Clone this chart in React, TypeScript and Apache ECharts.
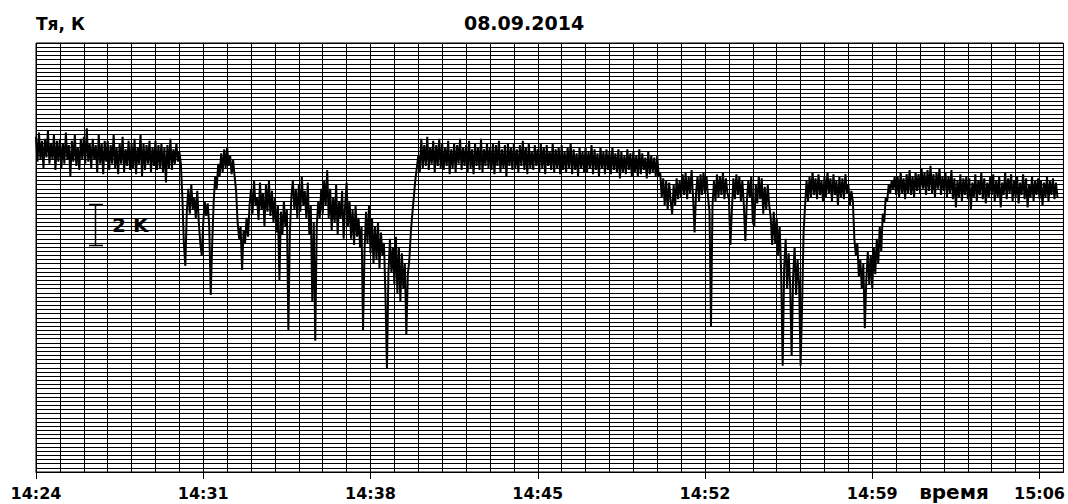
import React, { useEffect, useRef } from "react";
import * as echarts from "echarts";

const START_HOUR = 14;
const START_MINUTE = 24;
const X_MAX = 43; // minutes after 14:24
const LABEL_STEP = 7; // minutes between labelled ticks
const SAMPLE_STEP = 0.0625; // minutes between samples (16 per minute)
const Y_MAX = 20.6; // K span of the plot
const Y_GRID = 0.2; // K between horizontal lines
const TITLE_Y = "Тя, К";
const TITLE_DATE = "08.09.2014";
const X_NAME = "время";
const SCALE_LABEL = "2 K";

// brightness temperature, K (arbitrary zero at the plot bottom), one row per minute
const TEMPERATURE: number[] = [
  16.1, 14.9, 16.3, 15.0, 15.9, 14.6, 16.0, 15.1, 16.4, 14.8, 15.8, 15.0, 16.2, 14.5, 15.9, 14.9,
  16.0, 14.6, 15.8, 14.8, 16.3, 15.0, 15.7, 14.2, 15.9, 14.9, 16.2, 14.7, 15.6, 14.5, 16.0, 15.0,
  16.1, 14.8, 16.5, 14.9, 15.8, 14.6, 16.0, 15.0, 15.7, 14.4, 16.2, 14.8, 15.8, 14.3, 15.9, 14.9,
  15.9, 14.5, 15.7, 14.8, 16.2, 14.6, 15.6, 14.3, 15.8, 14.8, 16.1, 14.4, 15.5, 14.7, 15.9, 14.5,
  15.8, 14.6, 16.0, 14.3, 15.6, 14.8, 16.2, 14.2, 15.8, 14.5, 15.7, 14.8, 15.9, 14.4, 15.6, 14.7,
  15.9, 14.5, 15.7, 14.6, 15.8, 14.4, 15.6, 13.9, 15.7, 14.6, 16.0, 14.5, 15.5, 14.8, 15.8, 14.9,
  15.4, 14.8, 13.2, 11.0, 9.9, 12.5, 13.6, 12.4, 13.8, 12.6, 13.2, 12.2, 13.5, 12.0, 11.0, 10.4,
  12.0, 13.0, 12.3, 12.9, 11.8, 8.5, 11.0, 13.0, 14.2, 13.6, 14.8, 14.2, 15.3, 14.4, 15.5, 14.6,
  15.6, 14.7, 15.2, 14.3, 15.0, 14.2, 13.5, 12.0, 11.2, 11.8, 9.7, 11.6, 11.0, 12.2, 11.3, 12.8,
  13.6, 12.4, 14.0, 12.8, 13.2, 12.1, 13.9, 12.6, 13.4, 11.8, 13.8, 12.5, 14.0, 12.3, 13.5, 12.0,
  13.2, 11.5, 12.8, 9.2, 12.5, 11.4, 13.0, 11.8, 12.6, 6.8, 11.5, 13.2, 14.0, 12.6, 13.6, 12.2,
  13.8, 12.5, 14.2, 12.8, 13.5, 12.2, 13.9, 11.4, 12.8, 8.2, 12.0, 6.3, 11.8, 13.0, 12.2, 13.6,
  12.4, 14.0, 12.8, 14.5, 12.2, 13.6, 11.6, 13.2, 12.0, 13.8, 11.4, 13.0, 12.2, 13.5, 11.2, 12.8,
  13.9, 11.8, 13.0, 11.2, 12.6, 10.9, 12.8, 11.3, 12.2, 10.8, 11.8, 6.8, 10.6, 12.5, 11.0, 12.8,
  10.5, 12.2, 10.0, 11.8, 10.2, 12.0, 9.8, 11.5, 10.4, 11.0, 8.5, 5.0, 9.5, 11.2, 9.6, 10.8,
  9.0, 11.3, 8.6, 10.8, 8.2, 10.5, 8.8, 10.0, 6.6, 9.5, 10.2, 11.5, 12.4, 13.2, 14.0, 14.6,
  15.2, 14.4, 16.0, 14.6, 15.7, 14.7, 16.1, 14.5, 15.6, 14.8, 15.9, 14.4, 15.7, 14.7, 16.0, 14.6,
  15.8, 14.5, 15.6, 14.7, 15.9, 14.3, 15.5, 14.6, 15.8, 14.4, 15.7, 14.8, 16.0, 14.5, 15.6, 14.7,
  15.7, 14.4, 15.9, 14.6, 15.5, 14.3, 15.8, 14.7, 15.6, 14.5, 16.0, 14.4, 15.5, 14.7, 15.8, 14.6,
  15.6, 14.5, 15.8, 14.3, 15.7, 14.7, 15.9, 14.4, 15.5, 14.6, 15.7, 14.2, 15.8, 14.7, 15.6, 14.5,
  15.8, 14.6, 15.5, 14.4, 15.7, 14.7, 15.9, 14.5, 15.6, 14.3, 15.8, 14.6, 15.4, 14.5, 15.7, 14.7,
  15.5, 14.4, 15.8, 14.6, 15.6, 14.3, 15.7, 14.7, 15.4, 14.5, 15.8, 14.4, 15.5, 14.6, 15.6, 14.3,
  15.7, 14.5, 15.4, 14.4, 15.6, 14.6, 15.8, 14.3, 15.5, 14.5, 15.3, 14.2, 15.6, 14.6, 15.4, 14.4,
  15.6, 14.4, 15.4, 14.6, 15.7, 14.3, 15.5, 14.5, 15.3, 14.2, 15.6, 14.6, 15.4, 14.3, 15.5, 14.5,
  15.4, 14.3, 15.6, 14.5, 15.3, 14.4, 15.5, 14.1, 15.4, 14.4, 15.2, 14.3, 15.5, 14.5, 15.3, 14.2,
  15.4, 14.4, 15.2, 14.2, 15.5, 14.3, 15.3, 14.5, 15.1, 14.1, 15.4, 14.3, 15.2, 14.4, 15.1, 14.2,
  15.2, 14.2, 14.4, 13.2, 14.1, 12.8, 14.0, 12.6, 13.9, 13.0, 12.4, 13.8, 12.8, 14.1, 13.1, 14.0,
  13.2, 14.3, 13.3, 14.4, 13.1, 14.2, 13.4, 14.5, 13.2, 11.5, 13.4, 14.2, 13.0, 14.3, 13.3, 14.4,
  13.4, 14.2, 13.2, 12.5, 7.0, 12.8, 14.0, 13.0, 14.3, 13.2, 14.2, 13.3, 14.4, 13.1, 14.1, 13.4,
  13.1, 10.9, 12.6, 14.1, 13.1, 14.3, 13.3, 14.2, 13.0, 14.0, 12.8, 11.1, 13.0, 14.0, 13.2, 14.2,
  12.0, 11.8, 13.8, 12.9, 14.2, 13.1, 14.1, 12.4, 13.7, 12.6, 13.8, 12.8, 12.2, 10.9, 12.5, 11.0,
  12.2, 10.4, 11.8, 9.5, 5.1, 9.8, 11.2, 8.8, 10.5, 9.0, 5.6, 9.4, 10.8, 8.5, 10.2, 9.0,
  5.1, 8.0, 11.5, 12.8, 14.0, 13.0, 14.2, 13.2, 14.4, 13.3, 14.1, 13.1, 14.3, 13.3, 14.0, 13.0,
  14.2, 13.2, 14.4, 13.4, 14.1, 13.0, 14.3, 13.3, 14.0, 12.8, 14.2, 13.2, 14.1, 13.1, 14.3, 13.4,
  13.8, 12.8, 13.5, 13.0, 11.2, 10.4, 11.0, 9.4, 10.2, 8.8, 10.0, 6.9, 9.2, 10.6, 9.0, 10.4,
  8.8, 10.8, 9.5, 11.2, 10.0, 11.8, 10.6, 12.4, 12.0, 13.2, 13.0, 13.8, 13.4, 14.0, 13.6, 14.2,
  13.3, 14.2, 13.2, 14.4, 13.4, 14.1, 13.1, 14.3, 13.4, 14.5, 13.3, 14.2, 13.2, 14.4, 13.5, 14.3,
  13.4, 14.6, 13.6, 14.4, 13.3, 14.5, 13.5, 14.7, 13.4, 14.3, 13.2, 14.4, 13.6, 14.6, 13.3, 14.2,
  13.5, 14.4, 13.2, 14.2, 13.4, 14.5, 13.1, 14.1, 12.7, 14.0, 13.2, 14.3, 13.0, 14.1, 13.3, 14.2,
  13.1, 14.1, 12.6, 13.9, 13.2, 14.3, 13.0, 14.0, 13.3, 14.4, 13.1, 14.1, 12.9, 13.9, 13.2, 14.2,
  13.3, 14.3, 13.0, 14.0, 13.2, 14.2, 12.7, 13.9, 13.3, 14.4, 13.1, 14.1, 13.4, 14.3, 13.0, 14.0,
  13.2, 14.2, 12.9, 13.9, 13.3, 14.3, 13.1, 14.1, 12.7, 13.8, 13.2, 14.2, 13.0, 14.0, 13.3, 14.1,
  13.1, 14.0, 12.8, 13.9, 13.2, 14.2, 13.0, 14.0, 13.3, 14.1, 13.1, 13.9, 13.2,
];

const FONT = "DejaVu Sans";

function timeLabel(v: number): string {
  const total = START_HOUR * 60 + START_MINUTE + Math.round(v);
  const h = Math.floor(total / 60);
  const m = total % 60;
  return `${h}:${m < 10 ? "0" + m : m}`;
}

export default function App() {
  const ref = useRef<HTMLDivElement>(null);

  useEffect(() => {
    if (!ref.current) return;
    const chart = echarts.init(ref.current, null, { renderer: "svg" });
    const data = TEMPERATURE.map((v, i) => [i * SAMPLE_STEP, v]);

    chart.setOption({
      animation: false,
      backgroundColor: "#ffffff",
      grid: {
        left: 36,
        top: 43,
        right: 3,
        bottom: 32,
        show: true,
        borderColor: "#000",
        borderWidth: 1,
      },
      xAxis: [
        {
          type: "value",
          min: 0,
          max: X_MAX,
          interval: 1,
          axisLine: { show: true, lineStyle: { color: "#000", width: 1 } },
          axisTick: { show: false },
          axisLabel: { show: false },
          splitLine: { show: true, lineStyle: { color: "#000", width: 1 } },
        },
        {
          type: "value",
          position: "bottom",
          min: 0,
          max: X_MAX,
          interval: LABEL_STEP,
          axisLine: { show: false },
          axisTick: { show: true, length: 7, inside: false, lineStyle: { color: "#000", width: 1 } },
          axisLabel: {
            show: true,
            margin: 13,
            color: "#000",
            fontFamily: FONT,
            fontWeight: "bold",
            fontSize: 16,
            formatter: (v: number) => timeLabel(v),
          },
          splitLine: { show: false },
        },
      ],
      yAxis: {
        type: "value",
        min: 0,
        max: Y_MAX,
        interval: Y_GRID,
        axisLine: { show: false },
        axisTick: { show: false },
        axisLabel: { show: false },
        splitLine: { show: true, lineStyle: { color: "#000", width: 1 } },
      },
      graphic: [
        {
          type: "text",
          left: 36,
          top: 15,
          style: { text: TITLE_Y, fill: "#000", font: `bold 17px "${FONT}"` },
        },
        {
          type: "text",
          x: 524,
          y: 23,
          style: {
            text: TITLE_DATE,
            fill: "#000",
            font: `bold 19px "${FONT}"`,
            align: "center",
            verticalAlign: "middle",
          },
        },
        {
          type: "text",
          x: 954,
          y: 492,
          style: {
            text: X_NAME,
            fill: "#000",
            font: `bold 20px "${FONT}"`,
            align: "center",
            verticalAlign: "middle",
          },
        },
        {
          type: "line",
          shape: { x1: 95.5, y1: 204, x2: 95.5, y2: 246 },
          style: { stroke: "#000", lineWidth: 1.5 },
        },
        {
          type: "line",
          shape: { x1: 89, y1: 204.5, x2: 103, y2: 204.5 },
          style: { stroke: "#000", lineWidth: 1.5 },
        },
        {
          type: "line",
          shape: { x1: 89, y1: 245.5, x2: 103, y2: 245.5 },
          style: { stroke: "#000", lineWidth: 1.5 },
        },
        {
          type: "text",
          x: 112,
          y: 225,
          style: {
            text: SCALE_LABEL,
            fill: "#000",
            font: `bold 20px "${FONT}"`,
            align: "left",
            verticalAlign: "middle",
          },
        },
      ],
      series: [
        {
          type: "line",
          xAxisIndex: 0,
          data,
          showSymbol: false,
          symbol: "none",
          lineStyle: { color: "#000", width: 2 },
          z: 5,
        },
      ],
    });

    return () => chart.dispose();
  }, []);

  return (
    <div
      ref={ref}
      style={{ position: "fixed", left: 0, top: 0, width: 1068, height: 504 }}
    />
  );
}
